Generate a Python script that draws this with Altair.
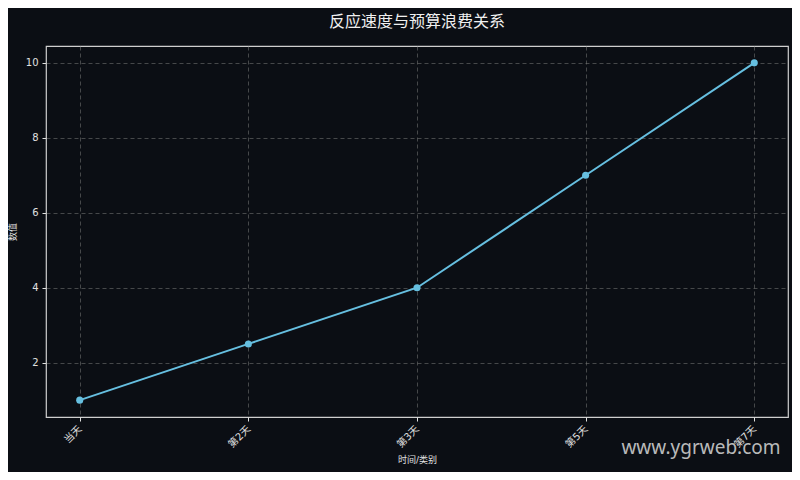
import altair as alt
import pandas as pd

categories = ["当天", "第2天", "第3天", "第5天", "第7天"]
values = [1, 2.5, 4, 7, 10]

df = pd.DataFrame({"cat": categories, "val": values})

FONT = "DejaVu Sans, Noto Sans CJK SC"
BG = "#0b0e14"
LINE = "#66bfe0"

base = alt.Chart(df).encode(
    x=alt.X("cat:N", sort=categories,
            scale=alt.Scale(type="point", padding=0.2),
            axis=alt.Axis(title="时间/类别", labelAngle=-45, labelAlign="right",
                          labelBaseline="middle", grid=True)),
    y=alt.Y("val:Q", scale=alt.Scale(domain=[0.55, 10.45], nice=False, zero=False),
            axis=alt.Axis(title="数值", values=[2, 4, 6, 8, 10], grid=True)),
)

line = base.mark_line(color=LINE, strokeWidth=2)
pts = base.mark_circle(color=LINE, size=50, opacity=1)

wm = alt.Chart(pd.DataFrame({"t": ["www.ygrweb.com"]})).mark_text(
    font="Noto Sans", fontSize=19, color="#d8d8d8", opacity=0.85, align="center", baseline="middle"
).encode(text="t:N", x=alt.value(655), y=alt.value(402))

chart = (line + pts + wm).properties(
    width=742, height=371,
    background=BG,
    padding={"left": 38, "top": 38, "right": 4, "bottom": 55},
    autosize=alt.AutoSizeParams(type="none"),
    title=alt.TitleParams("反应速度与预算浪费关系", font="Noto Sans CJK SC", fontSize=16,
                          fontWeight="normal", color="#f0f0f0", offset=16,
                          anchor="middle"),
).configure_view(
    stroke="#cfcfcf", strokeWidth=1.2, fill=BG
).configure_axis(
    labelFont=FONT, titleFont=FONT, labelFontSize=10, titleFontSize=9,
    labelColor="#e0e0e0", titleColor="#e0e0e0", titleFontWeight="normal",
    gridColor="#777777", gridDash=[4, 3], gridOpacity=0.7, gridWidth=0.8,
    domain=False, tickColor="#e0e0e0", tickSize=4, labelPadding=4,
).configure_axisY(titlePadding=8).configure_axisX(titlePadding=6, labelPadding=6)

chart.save("out.html", embed_options={"renderer": "svg", "actions": False})
